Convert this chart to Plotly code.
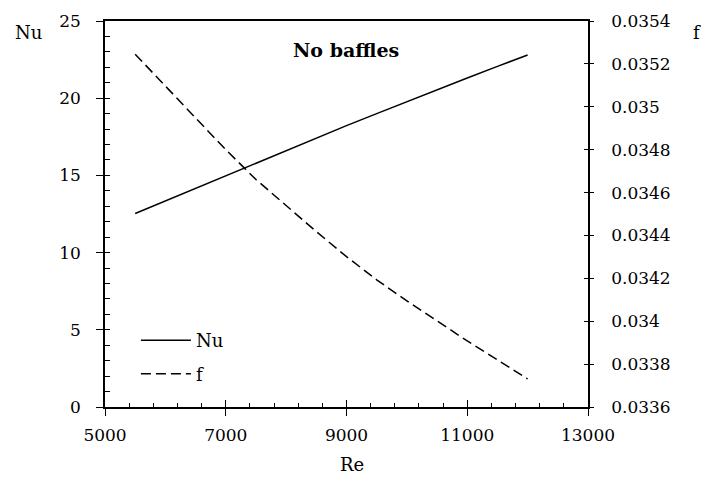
import plotly.graph_objects as go

# Data
re_vals = [5500, 6000, 6500, 7000, 7500, 8000, 8500, 9000, 9500, 10000, 10500, 11000, 11500, 12000]
nu_vals = [12.53, 13.35, 14.17, 14.99, 15.80, 16.61, 17.42, 18.22, 19.00, 19.78, 20.55, 21.31, 22.06, 22.80]
f_vals = [0.035245, 0.035098, 0.034951, 0.034800, 0.034661, 0.034539, 0.034418, 0.034301,
          0.034193, 0.034095, 0.034002, 0.033908, 0.033820, 0.033731]

f_tick_vals = [0.0336, 0.0338, 0.0340, 0.0342, 0.0344, 0.0346, 0.0348, 0.0350, 0.0352, 0.0354]
f_tick_text = ["0.0336", "0.0338", "0.034", "0.0342", "0.0344", "0.0346", "0.0348", "0.035", "0.0352", "0.0354"]

FONT = "DejaVu Serif"
BLACK = "#000000"
AX_W = 1.6
TW = 1.2
TICK_SIZE = 17
LABEL_SIZE = 18

fig = go.Figure()
fig.add_trace(go.Scatter(x=re_vals, y=nu_vals, mode="lines", name="Nu", legendgroup="nu",
                         line=dict(color=BLACK, width=1.5), xaxis="x", yaxis="y"))
fig.add_trace(go.Scatter(x=re_vals, y=f_vals, mode="lines", name="f", legendgroup="f",
                         line=dict(color=BLACK, width=1.5, dash="10px,5px"), xaxis="x", yaxis="y2"))
# empty helper traces so the overlay tick-only axes are drawn
fig.add_trace(go.Scatter(x=[], y=[], xaxis="x2", yaxis="y", showlegend=False, hoverinfo="skip"))
fig.add_trace(go.Scatter(x=[], y=[], xaxis="x3", yaxis="y", showlegend=False, hoverinfo="skip"))
fig.add_trace(go.Scatter(x=[], y=[], xaxis="x", yaxis="y3", showlegend=False, hoverinfo="skip"))
fig.add_trace(go.Scatter(x=[], y=[], xaxis="x", yaxis="y4", showlegend=False, hoverinfo="skip"))

tick_only = dict(showgrid=False, zeroline=False, showline=False, showticklabels=False,
                 tickcolor=BLACK, tickwidth=TW)

fig.update_layout(
    width=702, height=477,
    margin=dict(l=105, r=114, t=21, b=70),
    paper_bgcolor="white", plot_bgcolor="white",
    font=dict(family=FONT, size=TICK_SIZE, color=BLACK),
    showlegend=True,
    legend=dict(x=0.064, y=0.220, xanchor="left", yanchor="top",
                bgcolor="rgba(0,0,0,0)", font=dict(family=FONT, size=LABEL_SIZE, color=BLACK),
                itemwidth=50, tracegroupgap=7),
    xaxis=dict(range=[5000, 13000], dtick=2000, tick0=5000, tickformat="d",
               showgrid=False, zeroline=False,
               showline=True, linecolor=BLACK, linewidth=AX_W, mirror=True,
               ticks="outside", ticklen=7, tickwidth=TW, tickcolor=BLACK,
               ticklabelstandoff=5,
               tickfont=dict(family=FONT, size=TICK_SIZE, color=BLACK)),
    xaxis2=dict(range=[5000, 13000], overlaying="x", anchor="y", side="bottom",
                dtick=400, tick0=5000, ticks="inside", ticklen=4, **tick_only),
    xaxis3=dict(range=[5000, 13000], overlaying="x", anchor="y", side="bottom",
                dtick=2000, tick0=5000, ticks="inside", ticklen=7, **tick_only),
    yaxis=dict(range=[0, 25], dtick=5, tick0=0, showgrid=False, zeroline=False,
               showline=True, linecolor=BLACK, linewidth=AX_W,
               ticks="outside", ticklen=7, tickwidth=TW, tickcolor=BLACK,
               ticklabelstandoff=12,
               tickfont=dict(family=FONT, size=TICK_SIZE, color=BLACK)),
    yaxis4=dict(range=[0, 25], overlaying="y", side="left", anchor="x",
                dtick=1, tick0=0, ticks="inside", ticklen=5, **tick_only),
    yaxis2=dict(range=[0.0336, 0.0354], overlaying="y", side="right", anchor="x",
                tickvals=f_tick_vals, ticktext=f_tick_text, showgrid=False, zeroline=False,
                showline=True, linecolor=BLACK, linewidth=AX_W,
                ticks="outside", ticklen=4, tickwidth=TW, tickcolor=BLACK,
                ticklabelstandoff=14,
                tickfont=dict(family=FONT, size=TICK_SIZE, color=BLACK)),
    yaxis3=dict(range=[0.0336, 0.0354], overlaying="y", side="right", anchor="x",
                tickvals=f_tick_vals, ticks="inside", ticklen=4, **tick_only),
    annotations=[
        dict(text="Nu", x=-0.159, y=0.971, xref="paper", yref="paper", showarrow=False,
             xanchor="center", yanchor="middle", font=dict(family=FONT, size=LABEL_SIZE, color=BLACK)),
        dict(text="f", x=1.226, y=0.971, xref="paper", yref="paper", showarrow=False,
             xanchor="center", yanchor="middle", font=dict(family=FONT, size=LABEL_SIZE, color=BLACK)),
        dict(text="Re", x=0.511, y=-0.15, xref="paper", yref="paper", showarrow=False,
             xanchor="center", yanchor="middle", font=dict(family=FONT, size=LABEL_SIZE, color=BLACK)),
        dict(text="<b>No baffles</b>", x=0.499, y=0.925, xref="paper", yref="paper", showarrow=False,
             xanchor="center", yanchor="middle", font=dict(family=FONT, size=19, color=BLACK)),
    ],
)

fig.write_html("out.html")
